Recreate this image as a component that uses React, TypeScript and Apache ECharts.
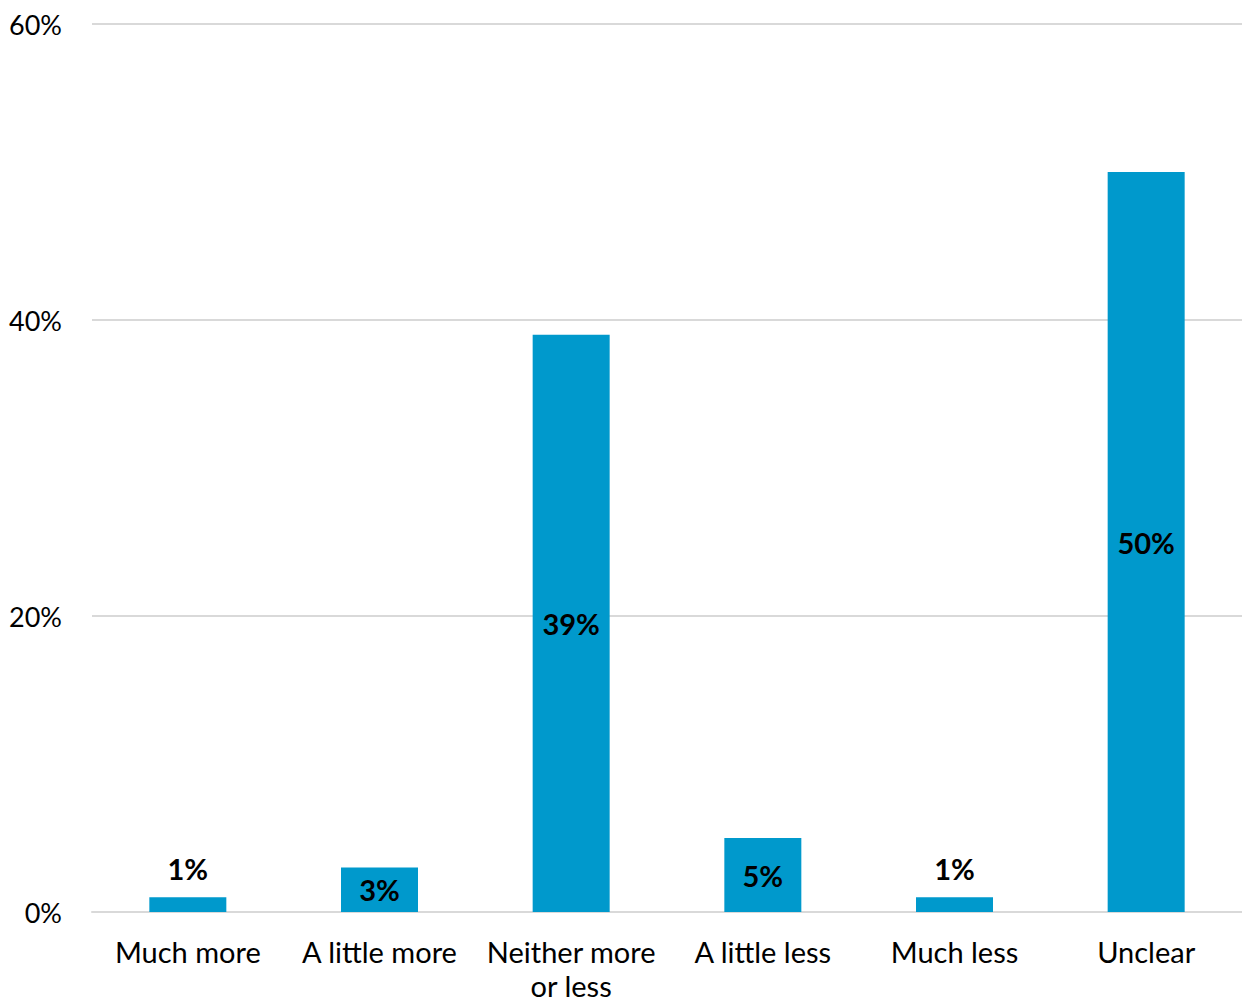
import React, { useEffect, useRef } from "react";
import * as echarts from "echarts";

const categories = ["Much more", "A little more", "Neither more\nor less", "A little less", "Much less", "Unclear"];
const shares = [1, 3, 39, 5, 1, 50];
const yTicks = [0, 20, 40, 60];

const FONT = "Lato, 'Open Sans', sans-serif";

export default function App() {
  const ref = useRef<HTMLDivElement>(null);

  useEffect(() => {
    if (!ref.current) return;
    const chart = echarts.init(ref.current, null, { renderer: "svg" });
    chart.setOption({
      animation: false,
      grid: {
        left: 92,
        right: 0,
        top: 24,
        bottom: 90,
        containLabel: false,
        outerBoundsMode: "none",
      },
      xAxis: {
        type: "category",
        data: categories,
        axisLine: { show: true, lineStyle: { color: "#d9d9d9", width: 2 } },
        axisTick: { show: false },
        axisLabel: {
          color: "#000",
          fontFamily: FONT,
          fontSize: 29,
          margin: 22,
          lineHeight: 34,
          interval: 0,
        },
      },
      yAxis: {
        type: "value",
        min: yTicks[0],
        max: yTicks[yTicks.length - 1],
        interval: 20,
        axisLine: { show: false },
        axisTick: { show: false },
        splitLine: { lineStyle: { color: "#d9d9d9", width: 2 } },
        axisLabel: {
          color: "#000",
          fontFamily: FONT,
          fontSize: 27,
          margin: 30,
          formatter: (v: number) => `${v}%`,
        },
      },
      series: [
        {
          type: "bar",
          data: shares.map((v) => ({
            value: v,
            label: {
              position: v < 2 ? "top" : "inside",
              distance: 14,
            },
          })),
          barWidth: 77,
          itemStyle: { color: "#0099CC" },
          label: {
            show: true,
            color: "#000",
            fontFamily: FONT,
            fontWeight: "bold",
            fontSize: 29,
            formatter: (p: any) => `${p.value}%`,
          },
        },
      ],
    });
    return () => chart.dispose();
  }, []);

  return (
    <div
      ref={ref}
      style={{ position: "fixed", left: 0, top: 0, width: 1242, height: 1002, background: "#fff" }}
    />
  );
}
